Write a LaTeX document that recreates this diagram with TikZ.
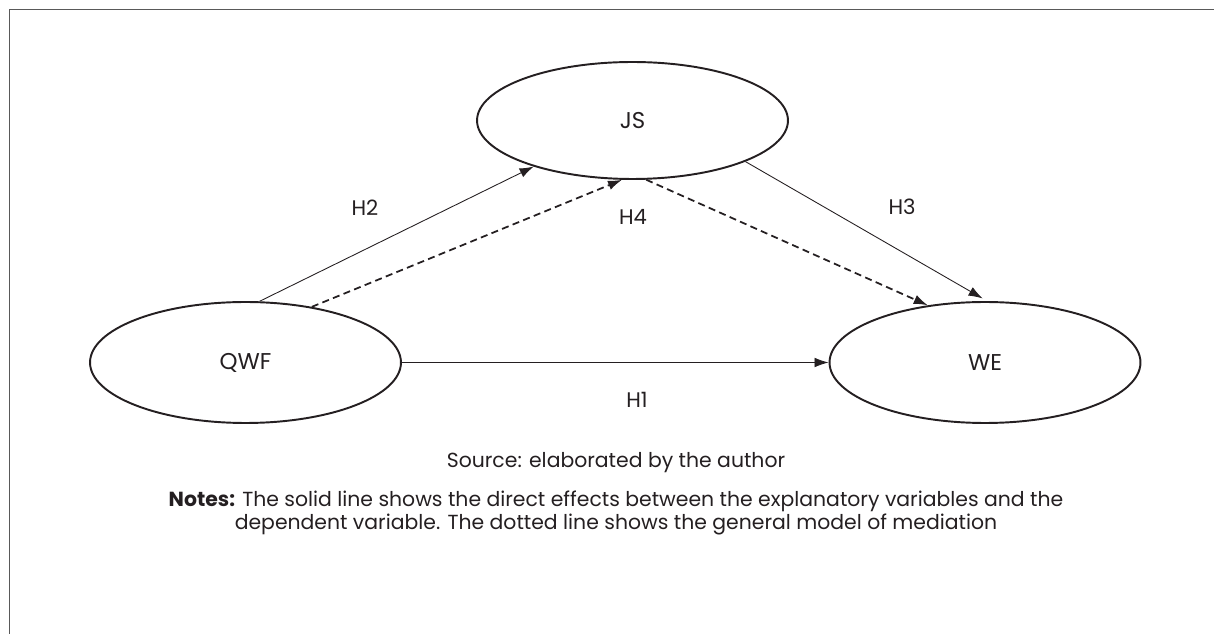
\documentclass[tikz,border=0pt]{standalone}
\usepackage{fontspec}
\setmainfont{Poppins}
\usetikzlibrary{shapes,arrows.meta}
\definecolor{inkgray}{rgb}{0.14, 0.12, 0.13}
\definecolor{framegray}{rgb}{0.35, 0.35, 0.35}
\tikzstyle{latent} = [ellipse, draw=inkgray, line width=1.1pt, text=inkgray,
    minimum width=6.22cm, minimum height=2.42cm, inner sep=0pt,
    font=\fontsize{13}{15}\selectfont]
\tikzstyle{line} = [draw=inkgray, line width=0.5pt, -{Latex[length=8pt,width=5.5pt]}]
\tikzstyle{mediation} = [line, line width=1pt, dash pattern=on 4pt off 2.5pt]
\tikzstyle{hyp} = [text=inkgray, font=\fontsize{12}{14}\selectfont]
\tikzstyle{note} = [text=inkgray, font=\fontsize{11.6}{13.2}\selectfont]

\begin{document}
\begin{tikzpicture}[x=0.02cm, y=-0.02cm]
\useasboundingbox (0,0) rectangle (1214,634);
\draw [framegray, line width=0.8pt] (9.5,634) -- (9.5,9.5) -- (1214,9.5);

\node [latent, minimum height=2.34cm] (js) at (632.5,120.5) {JS};
\node [latent] (qwf) at (245.5,362.5) {QWF};
\node [latent] (we) at (985,362.5) {WE};

\path [line] (qwf.east) -- (we.west);
\path [line] (qwf.77) -- (js.205);
\path [line, shorten >=3pt] (js.340) -- (we.88);
\path [mediation] (qwf.40) -- (js.260);
\path [mediation] (js.283) -- (we.135);

\node [hyp] (h1) at (637,400) {H1};
\node [hyp] (h2) at (365,208) {H2};
\node [hyp] (h3) at (902,207) {H3};
\node [hyp] (h4) at (633,217) {H4};

\node [note] (source) at (616,463) {Source: elaborated by the author};
\node [note, align=center] (notes) at (616,513) {\textbf{Notes:} The solid line shows the direct effects between the explanatory variables and the\\dependent variable. The dotted line shows the general model of mediation};
\end{tikzpicture}
\end{document}
